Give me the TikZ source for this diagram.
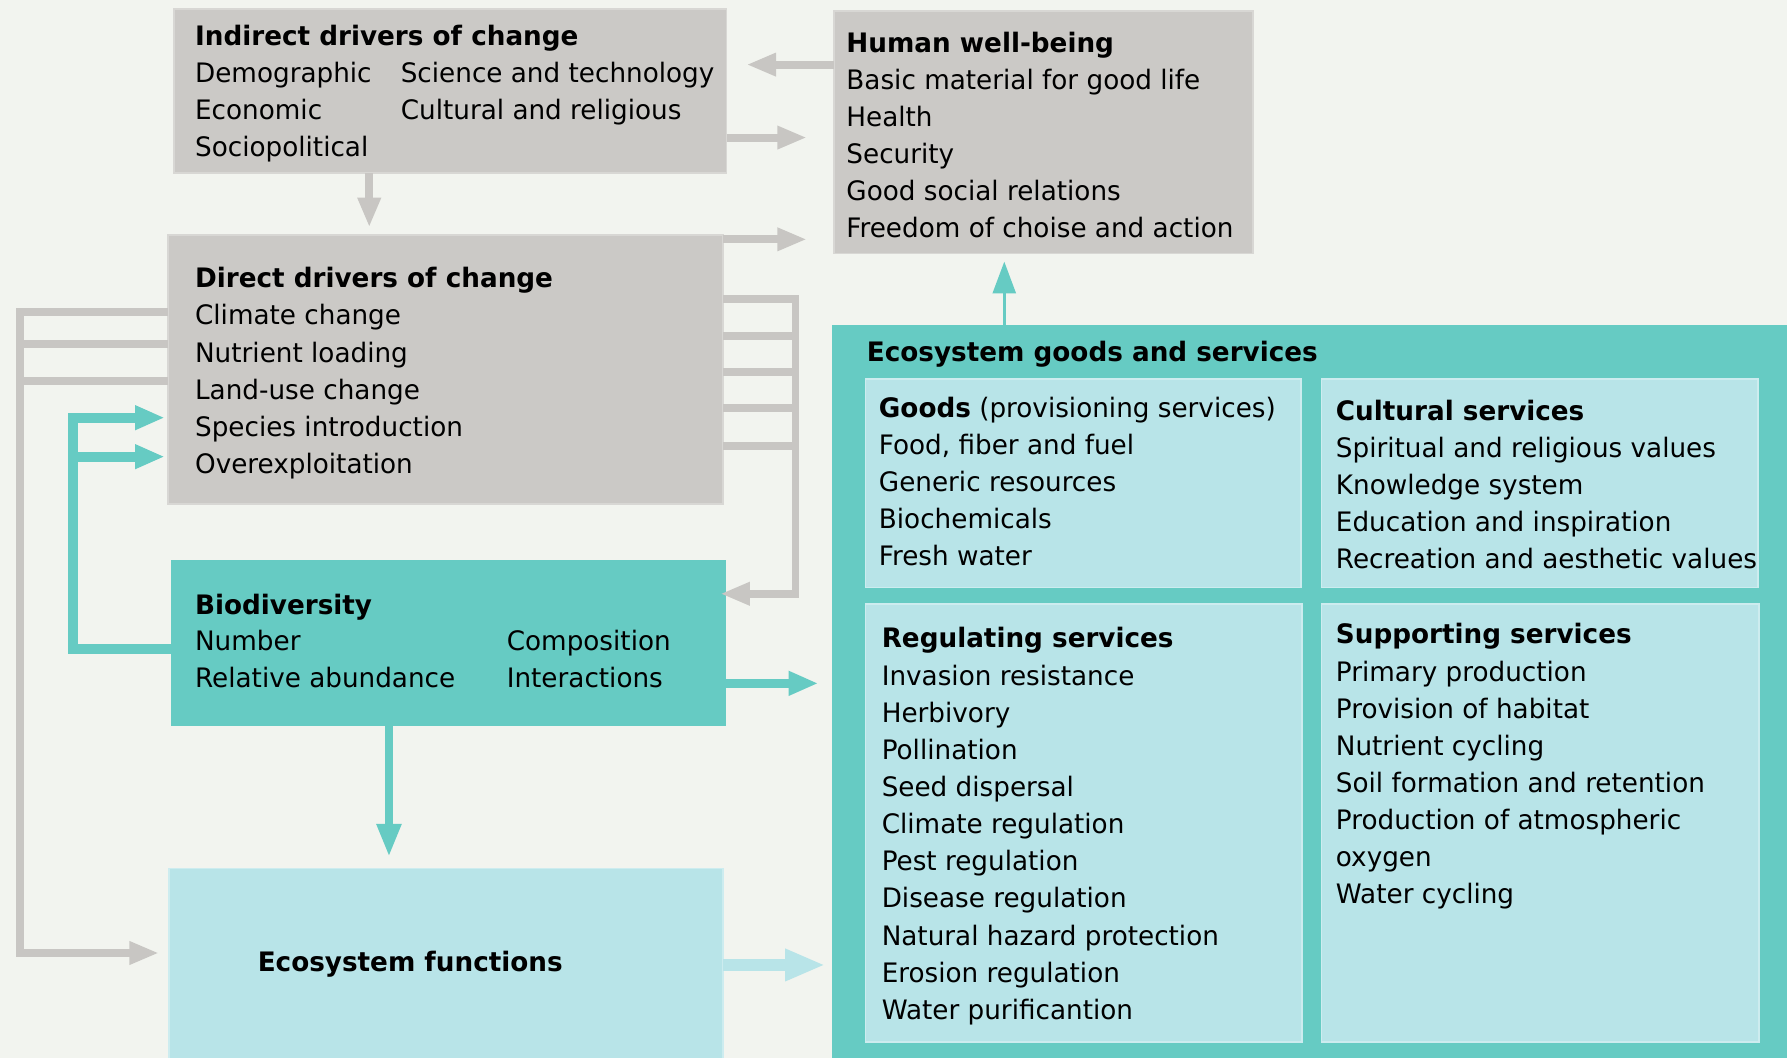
\documentclass[tikz,border=0pt]{standalone}
\usepackage{fontspec}
\setmainfont{DejaVu Sans}[FakeStretch=0.98]
\usetikzlibrary{arrows.meta}

\definecolor{bggray}{RGB}{242,244,239}
\definecolor{boxgray}{RGB}{203,201,198}
\definecolor{linegray}{RGB}{200,198,195}
\definecolor{ecoteal}{RGB}{102,203,195}
\definecolor{ecolight}{RGB}{184,228,232}

\tikzset{
	box/.style={anchor=north west, inner sep=0pt, outer sep=0pt, line width=1.5pt},
	graybox/.style={box, fill=boxgray, draw=boxgray!75!white},
	tealbox/.style={box, fill=ecoteal, draw=ecoteal},
	lightbox/.style={box, fill=ecolight, draw=ecolight!70!white},
	txt/.style={anchor=base west, inner sep=0pt, font=\fontsize{23.5}{30}\selectfont},
	ttl/.style={anchor=base west, inner sep=0pt, font=\fontsize{23.5}{30}\selectfont\bfseries},
	grayline/.style={draw=linegray, line width=7pt},
	grayarrow/.style={grayline, -{Triangle[length=26pt,width=19pt]}},
	tealline/.style={draw=ecoteal, line width=8.5pt},
	tealarrow/.style={tealline, -{Triangle[length=26pt,width=20pt]}}
}

\begin{document}
\begin{tikzpicture}[x=1pt, y=-1pt]
			%%%%% START %%%%%
			
			\fill[bggray] (0,0) rectangle (1568,928);
			\useasboundingbox (0,0) rectangle (1568,928);
			
			%%%%% boxes
			\node[graybox, minimum width=485pt, minimum height=144pt] (indirect) at (152.5,8) {};
			\node[graybox, minimum width=368pt, minimum height=213pt] (wellbeing) at (731.5,9.5) {};
			\node[graybox, minimum width=487pt, minimum height=236pt] (direct) at (147.5,206) {};
			\node[tealbox, minimum width=485pt, minimum height=144pt] (biodiv) at (151,492) {};
			\node[lightbox, minimum width=486pt, minimum height=170pt] (functions) at (148.5,762) {};
			\node[tealbox, minimum width=840pt, minimum height=645pt] (services) at (730.5,285.5) {};
			\node[lightbox, minimum width=382pt, minimum height=183pt] (goods) at (759.5,332.5) {};
			\node[lightbox, minimum width=383pt, minimum height=183pt] (cultural) at (1159.5,332.5) {};
			\node[lightbox, minimum width=383pt, minimum height=384pt] (regulating) at (759.5,530) {};
			\node[lightbox, minimum width=384pt, minimum height=384pt] (supporting) at (1159.5,530) {};
			
			%%%%% texts
			\node[ttl] (indirectT) at (171,39.5) {Indirect drivers of change};
			\foreach \t [count=\i] in {Demographic,Economic,Sociopolitical}
				\node[txt] (indirectA\i) at (171,{39.5+\i*32.6}) {\t};
			\foreach \t [count=\i] in {Science and technology,Cultural and religious}
				\node[txt] (indirectB\i) at (351.5,{39.5+\i*32.6}) {\t};
			
			\node[ttl] (wellbeingT) at (742.5,46) {Human well-being};
			\foreach \t [count=\i] in {Basic material for good life,Health,Security,Good social relations,Freedom of choise and action}
				\node[txt] (wellbeing\i) at (742.5,{46+\i*32.5}) {\t};
			
			\node[ttl] (directT) at (171,252.5) {Direct drivers of change};
			\foreach \t [count=\i] in {Climate change,Nutrient loading,Land-use change,Species introduction,Overexploitation}
				\node[txt] (direct\i) at (171,{252.5+\i*32.6}) {\t};
			
			\node[ttl] (biodivT) at (171,539) {Biodiversity};
			\foreach \t [count=\i] in {Number,Relative abundance}
				\node[txt] (biodivA\i) at (171,{539+\i*32}) {\t};
			\foreach \t [count=\i] in {Composition,Interactions}
				\node[txt] (biodivB\i) at (444.5,{539+\i*32}) {\t};
			
			\node[ttl] (functionsT) at (226,852) {Ecosystem functions};
			
			\node[ttl] (servicesT) at (760.5,317.3) {Ecosystem goods and services};
			
			\node[txt] (goodsT) at (771,366) {\textbf{Goods} (provisioning services)};
			\foreach \t [count=\i] in {{Food, fiber and fuel},Generic resources,Biochemicals,Fresh water}
				\node[txt] (goods\i) at (771,{366+\i*32.5}) {\t};
			
			\node[ttl] (culturalT) at (1172,369) {Cultural services};
			\foreach \t [count=\i] in {Spiritual and religious values,Knowledge system,Education and inspiration,Recreation and aesthetic values}
				\node[txt] (cultural\i) at (1172,{369+\i*32.5}) {\t};
			
			\node[ttl] (regulatingT) at (773.5,568.5) {Regulating services};
			\foreach \t [count=\i] in {Invasion resistance,Herbivory,Pollination,Seed dispersal,Climate regulation,Pest regulation,Disease regulation,Natural hazard protection,Erosion regulation,Water purificantion}
				\node[txt] (regulating\i) at (773.5,{568.5+\i*32.6}) {\t};
			
			\node[ttl] (supportingT) at (1172,565) {Supporting services};
			\foreach \t [count=\i] in {Primary production,Provision of habitat,Nutrient cycling,Soil formation and retention,Production of atmospheric,oxygen,Water cycling}
				\node[txt] (supporting\i) at (1172,{565+\i*32.6}) {\t};
			
			%%%%% connectors
			\coordinate (hwTip) at (655,56.7);
			\coordinate (idTip) at (708,120.7);
			\coordinate (ddTip) at (324,199.5);
			\coordinate (dhTip) at (708,210);
			\coordinate (rCorner) at (698,521);
			\coordinate (lCorner) at (17.7,836.2);
			\coordinate (tCorner) at (64.3,366.5);
			
			\draw[grayarrow] (wellbeing.west |- hwTip) -- (hwTip);
			\draw[grayarrow] (indirect.east |- idTip) -- (idTip);
			\draw[grayarrow] (indirect.south -| ddTip) -- (ddTip);
			\draw[grayarrow] (direct.east |- dhTip) -- (dhTip);
			
			\draw[grayarrow, shorten >=-4pt] (direct.east |- 0,262.6) -| (rCorner) -- (biodiv.east |- rCorner);
			\foreach \y in {294.6,326.3,358,391.3}
				\draw[grayline] (direct.east |- 0,\y) -- (rCorner |- 0,\y);
			
			\draw[grayarrow, shorten >=9pt] (direct.west |- 0,273.5) -| (lCorner) -- (functions.west |- lCorner);
			\foreach \y in {302.2,333.9}
				\draw[grayline] (direct.west |- 0,\y) -- (lCorner |- 0,\y);
			
			\draw[tealarrow, shorten >=3pt] (biodiv.west |- 0,569.2) -| (tCorner) -- (direct.west |- tCorner);
			\draw[tealarrow, shorten >=3pt] (tCorner |- 0,400.7) -- (direct.west |- 0,400.7);
			
			\draw[tealarrow, shorten >=12.5pt] (biodiv.east |- 0,599.6) -- (services.west |- 0,599.6);
			\draw[tealline, line width=7.3pt, -{Triangle[length=29pt,width=20pt]}, shorten >=10pt] (biodiv.south -| 341.3,0) -- (functions.north -| 341.3,0);
			\draw[draw=ecoteal, line width=3pt, -{Triangle[length=28pt,width=20pt]}, shorten >=7pt] (services.north -| 881.2,0) -- (wellbeing.south -| 881.2,0);
			\draw[draw=ecolight, line width=10pt, -{Triangle[length=35pt,width=26pt]}, shorten >=6.5pt] (functions.east |- 0,846.7) -- (services.west |- 0,846.7);
			
			%%%%% END %%%%%
\end{tikzpicture}
\end{document}
